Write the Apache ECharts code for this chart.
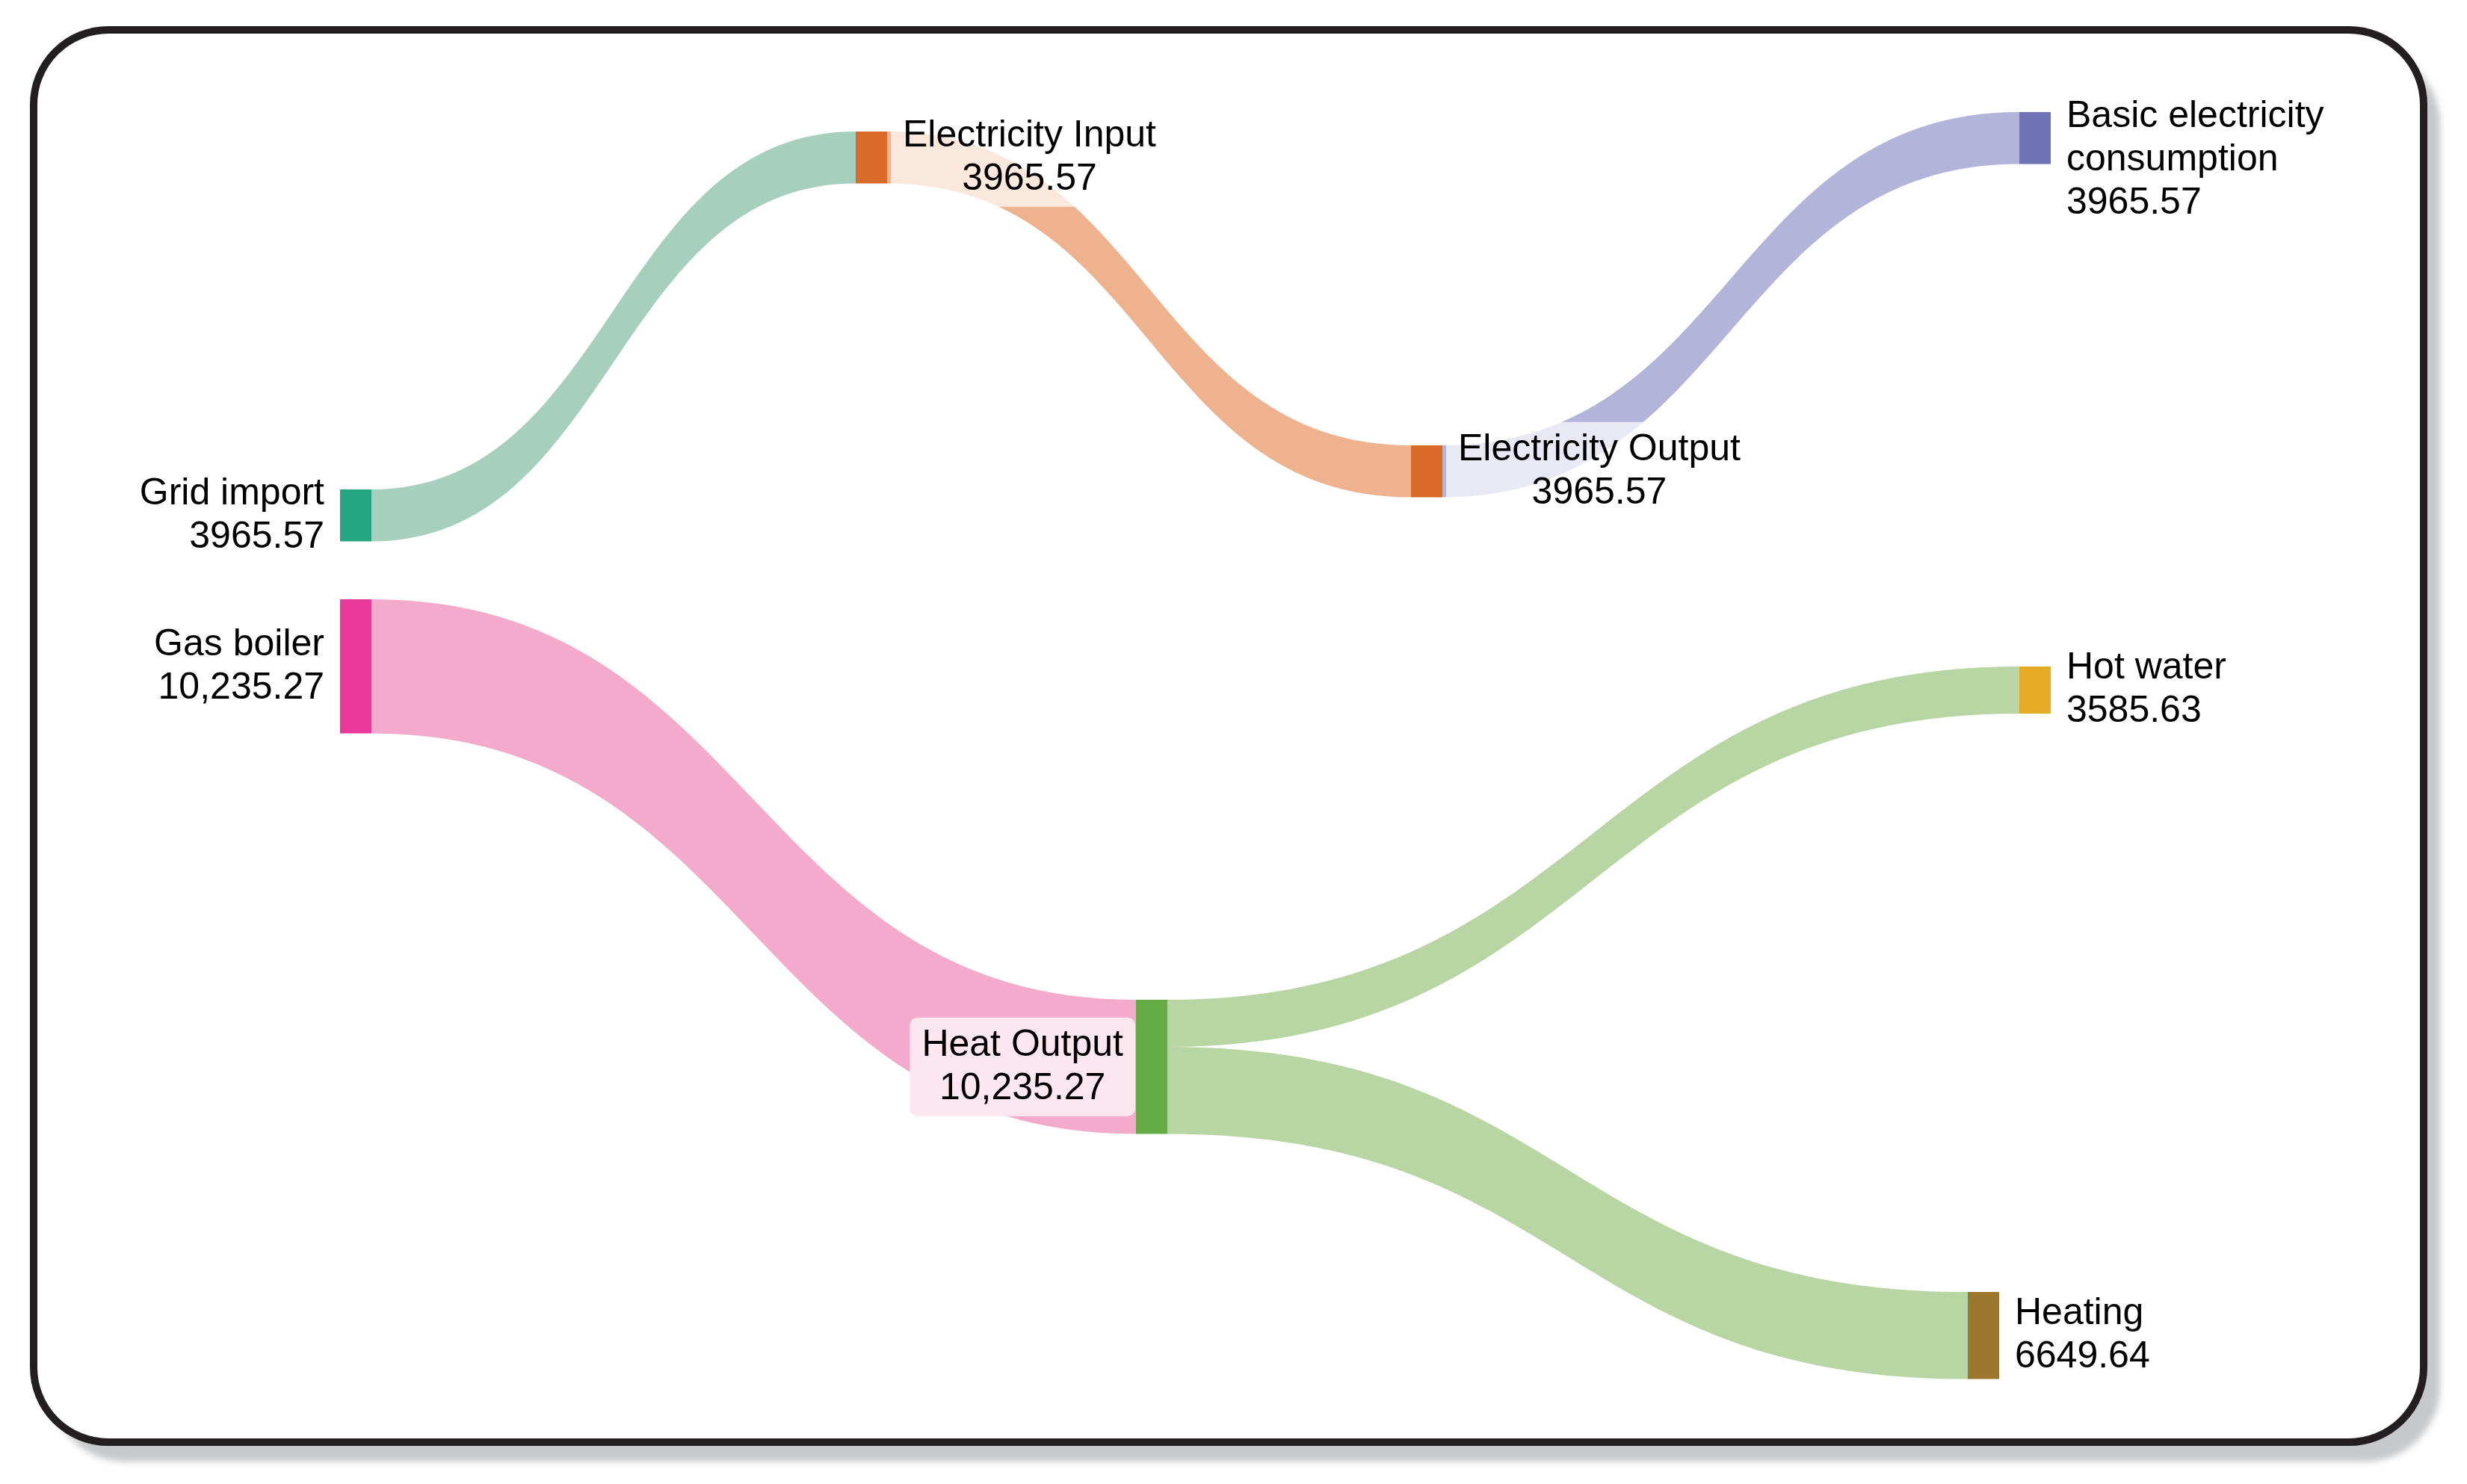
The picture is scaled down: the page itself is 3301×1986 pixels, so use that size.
<!DOCTYPE html>
<html>
<head>
<meta charset="utf-8">
<script src="https://cdn.jsdelivr.net/npm/echarts@6/dist/echarts.min.js"></script>
<style>
html,body{margin:0;padding:0;background:#ffffff;}
#chart{width:3301px;height:1986px;}
</style>
</head>
<body>
<div id="chart"></div>
<script>
// ---------------- data ----------------
const nodeNames = ['Grid import', 'Gas boiler', 'Electricity Input', 'Heat Output',
  'Electricity Output', 'Basic electricity consumption', 'Hot water', 'Heating'];
const linkSources = ['Grid import', 'Gas boiler', 'Electricity Input', 'Electricity Output', 'Heat Output', 'Heat Output'];
const linkTargets = ['Electricity Input', 'Heat Output', 'Electricity Output', 'Basic electricity consumption', 'Hot water', 'Heating'];
const linkValues = [3965.57, 10235.27, 3965.57, 3965.57, 3585.63, 6649.64];

// ---------------- styles ----------------
const nodeColors = ['#25a680', '#e9399a', '#da6a29', '#64ad45', '#da6a29', '#6f73b5', '#e6ab25', '#9c762c'];
const linkColors = ['#a6cfbd', '#f3aacb', '#eeb38e', '#b2b4d9', '#b8d5a4', '#b8d5a4'];
const labelSide = ['left', 'left', 'right', 'left', 'right', 'right', 'right', 'right'];
const labelCentered = [false, false, true, true, true, false, false, false];

// ---------------- layout (pixel positions of the dragged nodes) ----------------
const box = {left: 455, top: 150, width: 2290, height: 1696};
const nodePixelX = [455, 455, 1145, 1520, 1888, 2702, 2702, 2633];
const nodePixelY = [655, 802, 176, 1338, 596, 150, 892, 1729];
const targetKy = 179.5 / 10235.27;
const colSum = 14200.84;
const gap = (box.height - colSum * targetKy) / 2;

const FONT = 'Liberation Sans, Arial, Helvetica, sans-serif';

function fmt(v) {
  const s = v.toFixed(2);
  if (v < 10000) return s;
  const parts = s.split('.');
  return parts[0].replace(/\B(?=(\d{3})+(?!\d))/g, ',') + '.' + parts[1];
}

const nodes = nodeNames.map(function (name, i) {
  const centered = labelCentered[i];
  const label = {
    position: labelSide[i],
    formatter: function (p) {
      return '{' + (centered ? 'c' : 'n') + '|' + p.name + '}\n{' + (centered ? 'c' : 'n') + '|' + fmt(p.value) + '}';
    }
  };
  if (name === 'Heat Output') {
    label.backgroundColor = '#fce6f0';
    label.distance = 1;
  }
  if (name === 'Basic electricity consumption') {
    label.formatter = function (p) { return p.name + '\n' + fmt(p.value); };
    label.width = 380;
    label.overflow = 'break';
    label.offset = [0, 29];
  }
  return {
    name: name,
    localX: (nodePixelX[i] - box.left) / box.width,
    localY: (nodePixelY[i] - box.top) / box.height,
    itemStyle: {color: nodeColors[i], borderWidth: 0},
    label: label
  };
});

const links = linkSources.map(function (s, i) {
  return {
    source: s,
    target: linkTargets[i],
    value: linkValues[i],
    lineStyle: {color: linkColors[i], opacity: 1, curveness: 0.5}
  };
});

const chart = echarts.init(document.getElementById('chart'), null, {renderer: 'canvas'});
chart.setOption({
  animation: false,
  backgroundColor: '#ffffff',
  graphic: [{
    type: 'rect',
    z: -20,
    silent: true,
    shape: {x: 45, y: 40, width: 3198, height: 1890, r: 100},
    style: {
      fill: '#ffffff',
      shadowColor: 'rgba(80,84,90,0.32)',
      shadowBlur: 8,
      shadowOffsetX: 22,
      shadowOffsetY: 26
    }
  }, {
    type: 'rect',
    z: -10,
    silent: true,
    shape: {x: 45, y: 40, width: 3198, height: 1890, r: 100},
    style: {
      fill: null,
      stroke: '#231f20',
      lineWidth: 10
    }
  }],
  series: [{
    type: 'sankey',
    left: box.left,
    top: box.top,
    width: box.width,
    height: box.height,
    nodeWidth: 42,
    nodeGap: gap,
    layoutIterations: 0,
    nodeAlign: 'justify',
    draggable: false,
    emphasis: {disabled: true},
    data: nodes,
    links: links,
    label: {
      show: true,
      color: '#000000',
      fontFamily: FONT,
      fontSize: 50,
      lineHeight: 58,
      distance: 5,
      padding: [8, 16],
      borderRadius: 10,
      backgroundColor: 'rgba(255,255,255,0.7)',
      rich: {
        n: {fontSize: 50, lineHeight: 58, color: '#000000', fontFamily: FONT},
        c: {fontSize: 50, lineHeight: 58, color: '#000000', align: 'center', fontFamily: FONT}
      }
    },
    lineStyle: {curveness: 0.5, opacity: 1},
    itemStyle: {borderWidth: 0}
  }]
});
</script>
</body>
</html>
